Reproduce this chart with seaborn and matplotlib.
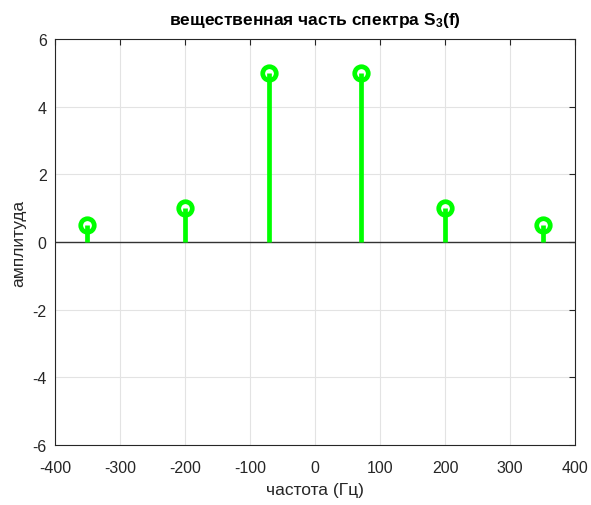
import matplotlib
matplotlib.use("Agg")
import matplotlib.pyplot as plt
import seaborn as sns
import pandas as pd

freqs = [-350, -200, -70, 70, 200, 350]
amps = [0.5, 1.0, 5.0, 5.0, 1.0, 0.5]
xticks = [-400, -300, -200, -100, 0, 100, 200, 300, 400]
yticks = [-6, -4, -2, 0, 2, 4, 6]

sns.set_style("white")
plt.rcParams['font.family'] = ['Liberation Sans', 'DejaVu Sans']
plt.rcParams['mathtext.fontset'] = 'custom'
plt.rcParams['mathtext.rm'] = 'Liberation Sans:bold'
plt.rcParams['mathtext.default'] = 'rm'

df = pd.DataFrame({"f": freqs, "a": amps})

fig = plt.figure(figsize=(5.91, 5.06), dpi=100)
ax = fig.add_axes([0.093, 0.1186, 0.880, 0.8024])

green = "#00FF00"
ax.axhline(0, color="#333333", lw=1.0, zorder=2)
sns.scatterplot(data=df, x="f", y="a", ax=ax, s=95, facecolor="white",
                edgecolor=green, linewidth=3.4, zorder=4, legend=False)
ax.vlines(df["f"], 0, df["a"], color=green, lw=3.4, zorder=5)

ax.set_xlim(-400, 400)
ax.set_ylim(-6, 6)
ax.set_xticks(xticks)
ax.set_yticks(yticks)
ax.set_xticklabels([str(t) for t in xticks])
ax.set_yticklabels([str(t) for t in yticks])
ax.grid(True, color="#e3e3e3", lw=0.8)
ax.set_axisbelow(True)
for s in ax.spines.values():
    s.set_color("#262626")
    s.set_linewidth(0.8)
ax.tick_params(direction="in", length=4, width=0.8, top=True, right=True,
               labelsize=11.5, colors="#262626")
ax.tick_params(axis="x", pad=11)
ax.tick_params(axis="y", pad=6)
ax.set_xlabel("частота (Гц)", fontsize=12.5, color="#262626", labelpad=5)
ax.set_ylabel("амплитуда", fontsize=12.5, color="#262626", labelpad=4)
ax.set_title("вещественная часть спектра S$_3$(f)", fontsize=12.5,
             fontweight="bold", color="black", pad=11)

fig.savefig("out.png", dpi=100)
